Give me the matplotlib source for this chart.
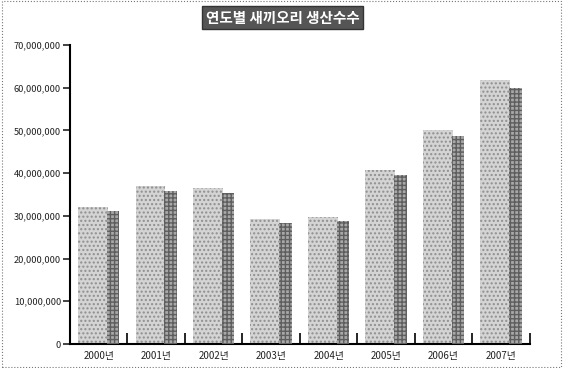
import numpy as np
import matplotlib.pyplot as plt
from matplotlib.ticker import FuncFormatter, FixedLocator
from matplotlib.patches import Rectangle

plt.rcParams['font.family'] = ['Noto Sans CJK KR', 'DejaVu Sans']

years = ['2000년', '2001년', '2002년', '2003년', '2004년', '2005년', '2006년', '2007년']
ducklings = [32000000, 37000000, 36500000, 29300000, 29700000, 40700000, 50100000, 61800000]
title = '연도별 새끼오리 생산수수'

fig = plt.figure(figsize=(5.63, 3.68), dpi=100)
ax = fig.add_axes([0.1243, 0.0652, 0.8167, 0.8125])

x = np.arange(len(years))
vals = np.array(ducklings)

# front face: light dotted grey
ax.bar(x - 0.10, vals, width=0.52, color='#d4d4d4', edgecolor='#8f8f8f',
       hatch='....', linewidth=0, zorder=2)
# darker right side, a little lower for the slanted top
ax.bar(x + 0.25, vals * 0.97, width=0.22, color='#a8a8a8', edgecolor='#5e5e5e',
       hatch='++++', linewidth=0, zorder=3)

ax.set_xlim(-0.5, len(years) - 0.5)
ax.set_ylim(0, 70000000)
ax.set_yticks(np.arange(0, 70000001, 10000000))
ax.yaxis.set_major_formatter(FuncFormatter(lambda v, p: f'{int(v):,}'))

ax.set_xticks(x)
ax.set_xticklabels(years)
ax.tick_params(axis='x', length=0, labelsize=7, pad=5, colors='#222222')
ax.tick_params(axis='y', direction='out', length=5, width=1.2, labelsize=6.7,
               pad=1.5, colors='#222222')

# boundary ticks along the x axis, pointing up
ax.xaxis.set_minor_locator(FixedLocator(np.arange(0.5, len(years), 1.0)))
ax.tick_params(axis='x', which='minor', direction='in', length=8, width=1.2)

for s in ['top', 'right']:
    ax.spines[s].set_visible(False)
ax.spines['left'].set_linewidth(1.5)
ax.spines['bottom'].set_linewidth(1.5)

fig.text(0.502, 0.952, title, ha='center', va='center', fontsize=10.5,
         fontweight='bold', color='white',
         bbox=dict(boxstyle='square,pad=0.25', facecolor='#555555',
                   edgecolor='#333333'))

# dotted frame around the whole picture
fig.patches.append(Rectangle((0.003, 0.003), 0.994, 0.994, transform=fig.transFigure,
                             fill=False, linestyle=':', linewidth=0.8,
                             edgecolor='#777777'))

fig.savefig('out.png', dpi=100)
